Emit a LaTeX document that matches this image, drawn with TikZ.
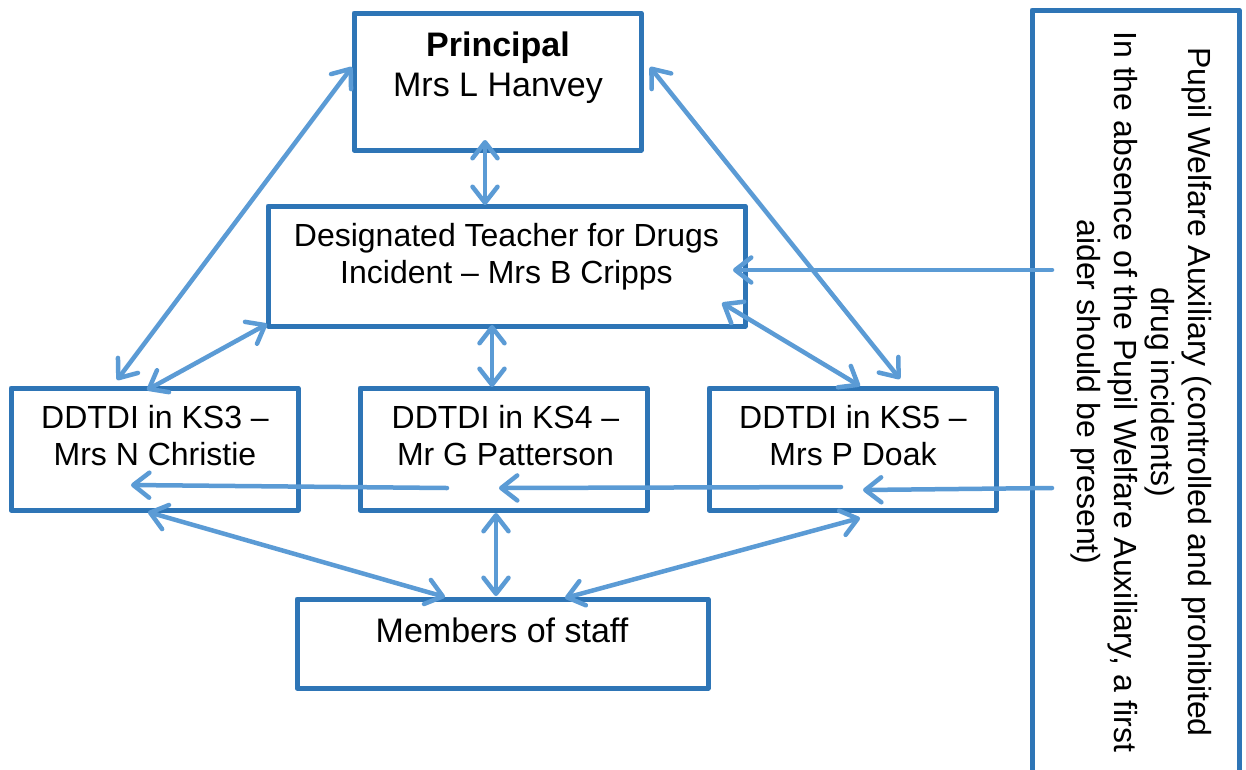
\documentclass[tikz,border=0pt]{standalone}
\usepackage{fontspec}
\setmainfont{Liberation Sans}
\usetikzlibrary{arrows.meta}
\definecolor{boxblue}{HTML}{2E75B6}
\definecolor{arrowblue}{HTML}{5B9BD5}
\newcommand\bigsize{\fontsize{34}{40}\selectfont}
\newcommand\midsize{\fontsize{32}{37}\selectfont}
\begin{document}
\begin{tikzpicture}[x=1pt,y=-1pt,
  box/.style={rectangle, draw=boxblue, line width=5pt, line join=round, inner sep=0pt, outer sep=0pt},
  txt/.style={align=center, inner sep=0pt, text=black},
  conn/.style={draw=arrowblue, line width=4.5pt, line cap=round, -{Straight Barb[length=16pt,width=25pt,round]}},
  biconn/.style={draw=arrowblue, line width=4.5pt, line cap=round, {Straight Barb[length=16pt,width=25pt,round]}-{Straight Barb[length=16pt,width=25pt,round]}}]
\useasboundingbox (0,0) rectangle (1246,769);
\fill[white] (0,0) rectangle (1246,769);

% boxes
\node[box, minimum width=287pt, minimum height=137pt] (P) at (497.5,81.5) {};
\node[box, minimum width=477pt, minimum height=120pt] (D) at (506.5,266) {};
\node[box, minimum width=287pt, minimum height=122pt] (K3) at (154.5,449) {};
\node[box, minimum width=287pt, minimum height=122pt] (K4) at (503.5,449) {};
\node[box, minimum width=287pt, minimum height=122pt] (K5) at (852.5,449) {};
\node[box, minimum width=411pt, minimum height=89pt] (M) at (502.5,643.5) {};
\node[box, minimum width=207pt, minimum height=790pt] (R) at (1135.5,405) {};

% texts
\node[txt, font=\bigsize] (Pt) at (498,68) {\textbf{Principal}\\Mrs L Hanvey};
\node[txt, font=\midsize] (Dt) at (506.5,257) {Designated Teacher for Drugs\\Incident -- Mrs B Cripps};
\node[txt, font=\midsize] (K3t) at (155,436) {DDTDI in KS3 --\\Mrs N Christie};
\node[txt, font=\midsize] (K4t) at (505.5,436) {DDTDI in KS4 --\\Mr G Patterson};
\node[txt, font=\midsize] (K5t) at (853,436) {DDTDI in KS5 --\\Mrs P Doak};
\node[txt, font=\bigsize] (Mt) at (502,630.5) {Members of staff};
\node[txt, font=\midsize, rotate=-90] (Rt) at (1141,392) {Pupil Welfare Auxiliary (controlled and prohibited\\drug incidents)\\In the absence of the Pupil Welfare Auxiliary, a first\\aider should be present)};

% connector end points
\coordinate (pd1) at (485,140);  \coordinate (pd2) at (485,205);
\coordinate (p3a) at (352,67);   \coordinate (p3b) at (117,380);
\coordinate (p5a) at (650,67);   \coordinate (p5b) at (900,379);
\coordinate (d3a) at (267,324);  \coordinate (d3b) at (147,390);
\coordinate (d4a) at (492,325);  \coordinate (d4b) at (492,387);
\coordinate (d5a) at (722,303);  \coordinate (d5b) at (860,386);
\coordinate (rda) at (1052,270); \coordinate (rdb) at (733,270);
\coordinate (r5a) at (1052,488); \coordinate (r5b) at (863,490);
\coordinate (k54a) at (841,487); \coordinate (k54b) at (499,488);
\coordinate (k43a) at (447,488); \coordinate (k43b) at (131,485);
\coordinate (m3a) at (148,512);  \coordinate (m3b) at (445,597);
\coordinate (m4a) at (496,513);  \coordinate (m4b) at (496,596);
\coordinate (m5a) at (860,518);  \coordinate (m5b) at (565,598);

% connectors
\draw[biconn] (pd1) -- (pd2);
\draw[biconn] (p3a) -- (p3b);
\draw[biconn] (p5a) -- (p5b);
\draw[biconn] (d3a) -- (d3b);
\draw[biconn] (d4a) -- (d4b);
\draw[biconn] (d5a) -- (d5b);
\draw[conn] (rda) -- (rdb);
\draw[conn] (r5a) -- (r5b);
\draw[conn] (k54a) -- (k54b);
\draw[conn] (k43a) -- (k43b);
\draw[biconn] (m3a) -- (m3b);
\draw[biconn] (m4a) -- (m4b);
\draw[biconn] (m5a) -- (m5b);
\end{tikzpicture}
\end{document}
